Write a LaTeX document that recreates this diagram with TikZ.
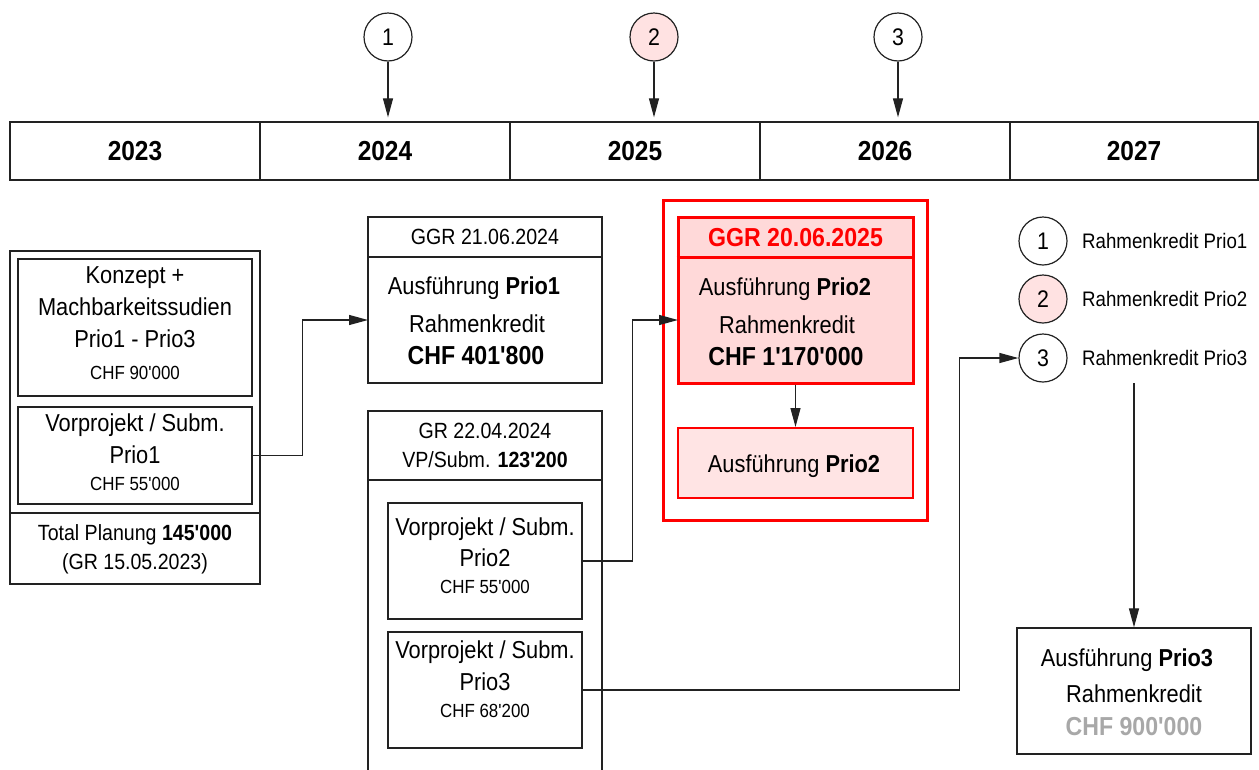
\documentclass[tikz,border=0pt]{standalone}
\usepackage{fontspec}
\setmainfont[FakeStretch=0.89, Ligatures=TeXOff]{Liberation Sans}
\usetikzlibrary{arrows.meta}
\definecolor{redline}{HTML}{FF0000}
\definecolor{pinkA}{HTML}{FFD9D9}
\definecolor{pinkB}{HTML}{FFE4E4}
\definecolor{pinkC}{HTML}{FFE2E2}
\definecolor{grayt}{HTML}{A8A8A8}
\definecolor{lineblk}{HTML}{222222}
\begin{document}
\begin{tikzpicture}[x=1pt,y=-1pt,
 box/.style={draw=lineblk, line width=1.3pt, inner sep=0pt, rectangle},
 redbox/.style={draw=redline, line width=3pt, inner sep=0pt, rectangle},
 circ/.style={draw=lineblk, line width=1.2pt, circle, minimum size=48pt, inner sep=0pt, font=\fontsize{24}{24}\selectfont},
 txt/.style={inner sep=0pt, anchor=mid, yshift=-4.5pt, font=\fontsize{24.5}{24.5}\selectfont},
 bigb/.style={inner sep=0pt, anchor=mid, yshift=-4.5pt, font=\fontsize{26}{26}\selectfont\bfseries},
 small/.style={inner sep=0pt, anchor=mid, yshift=-3.5pt, font=\fontsize{19}{19}\selectfont},
 mid/.style={inner sep=0pt, anchor=mid, yshift=-4pt, font=\fontsize{22}{22}\selectfont},
 leg/.style={inner sep=0pt, anchor=west, font=\fontsize{21}{21}\selectfont},
 year/.style={box, font=\fontsize{27.5}{27.5}\selectfont\bfseries, minimum height=58pt},
 arr/.style={-{Triangle[length=19pt,width=10pt]}, line width=1.2pt, draw=lineblk},
 conn/.style={line width=1.2pt, draw=lineblk}
]
\useasboundingbox (0,0) rectangle (1259,769);
\clip (0,0) rectangle (1259,769);

% timeline
\node[year, minimum width=250pt] (Y23) at (135,151) {2023};
\node[year, minimum width=250pt] (Y24) at (385,151) {2024};
\node[year, minimum width=250pt] (Y25) at (635,151) {2025};
\node[year, minimum width=250pt] (Y26) at (885,151) {2026};
\node[year, minimum width=248pt] (Y27) at (1134,151) {2027};

% top circles
\node[circ] (c1) at (388,37) {1};
\node[circ, fill=pinkC] (c2) at (654,37) {2};
\node[circ] (c3) at (898,37) {3};
\draw[arr, shorten >=4pt] (c1) -- (c1 |- Y24.north);
\draw[arr, shorten >=4pt] (c2) -- (c2 |- Y25.north);
\draw[arr, shorten >=4pt] (c3) -- (c3 |- Y26.north);

% left block
\node[box, minimum width=250pt, minimum height=333pt] (L) at (135,417.5) {};
\draw[box] (L.west |- 0,513) -- (L.east |- 0,513);
\node[box, minimum width=234pt, minimum height=137pt] (K) at (135,327.5) {};
\node[txt] (k1) at (135,276) {Konzept +};
\node[txt] (k2) at (135,308) {Machbarkeitssudien};
\node[txt] (k3) at (135,340) {Prio1 - Prio3};
\node[small] (k4) at (135,373) {CHF 90'000};
\node[box, minimum width=234pt, minimum height=97pt] (V1) at (135,455.5) {};
\node[txt] (v1a) at (135,424) {Vorprojekt / Subm.};
\node[txt] (v1b) at (135,456) {Prio1};
\node[small] (v1c) at (135,484) {CHF 55'000};
\node[mid] (t1) at (135,534) {Total Planung \textbf{145'000}};
\node[mid] (t2) at (135,563) {(GR 15.05.2023)};

% GGR 2024 box
\node[box, minimum width=234pt, minimum height=166pt] (P1) at (485,300) {};
\draw[box] (P1.west |- 0,257) -- (P1.east |- 0,257);
\node[mid] (p1h) at (485,238) {GGR 21.06.2024};
\node[txt] (p1a) at (474,287) {Ausführung \textbf{Prio1}};
\node[txt] (p1b) at (477,325) {Rahmenkredit};
\node[bigb] (p1c) at (476,357) {CHF 401'800};

% GR 2024 box
\node[box, minimum width=234pt, minimum height=389pt] (GR) at (485,605.5) {};
\draw[box] (GR.west |- 0,480) -- (GR.east |- 0,480);
\node[mid] (grh1) at (485,432) {GR 22.04.2024};
\node[mid] (grh2) at (485,461) {VP/Subm. \textbf{123'200}};
\node[box, minimum width=194pt, minimum height=116pt] (V2) at (485,561) {};
\node[txt] (v2a) at (485,528) {Vorprojekt / Subm.};
\node[txt] (v2b) at (485,559) {Prio2};
\node[small] (v2c) at (485,587) {CHF 55'000};
\node[box, minimum width=194pt, minimum height=116pt] (V3) at (485,690) {};
\node[txt] (v3a) at (485,651) {Vorprojekt / Subm.};
\node[txt] (v3b) at (485,683) {Prio3};
\node[small] (v3c) at (485,711) {CHF 68'200};

% red group
\node[redbox, minimum width=264pt, minimum height=320pt] (RO) at (795,360) {};
\node[redbox, fill=pinkA, minimum width=235pt, minimum height=166pt] (R1) at (795.5,300) {};
\draw[redbox] (R1.west |- 0,257) -- (R1.east |- 0,257);
\node[bigb, text=redline] (r1h) at (795.5,239) {GGR 20.06.2025};
\node[txt] (r1a) at (785,288) {Ausführung \textbf{Prio2}};
\node[txt] (r1b) at (787,326) {Rahmenkredit};
\node[bigb] (r1c) at (786,358) {CHF 1'170'000};
\node[redbox, line width=2pt, fill=pinkB, minimum width=235pt, minimum height=70pt] (R2) at (795.5,463) {};
\node[txt] (r2a) at (794,465) {Ausführung \textbf{Prio2}};
\draw[arr] (R1.south) -- (R2.north);

% legend
\node[circ] (L1) at (1043,241) {1};
\node[circ, fill=pinkC] (L2) at (1043,299) {2};
\node[circ] (L3) at (1043,358) {3};
\node[leg] (lt1) at (1082,241) {Rahmenkredit Prio1};
\node[leg] (lt2) at (1082,299) {Rahmenkredit Prio2};
\node[leg] (lt3) at (1082,358) {Rahmenkredit Prio3};

% Prio3 box
\node[box, minimum width=234pt, minimum height=126pt] (P3) at (1134,691) {};
\node[txt] (p3a) at (1127,659) {Ausführung \textbf{Prio3}};
\node[txt] (p3b) at (1134,695) {Rahmenkredit};
\node[bigb, text=grayt] (p3c) at (1134,728) {CHF 900'000};

% connectors
\coordinate (P1in) at (368,320);
\coordinate (R1in) at (678,320);
\coordinate (L3out) at (1134,383);
\draw[arr] (V1.east) -- ++(50,0) |- (P1in);
\draw[arr] (V2.east) -- ++(50,0) |- (R1in);
\draw[arr] (V3.east) -- ++(377,0) |- (L3.west);
\draw[arr] (L3out) -- (P3.north);
\end{tikzpicture}
\end{document}
